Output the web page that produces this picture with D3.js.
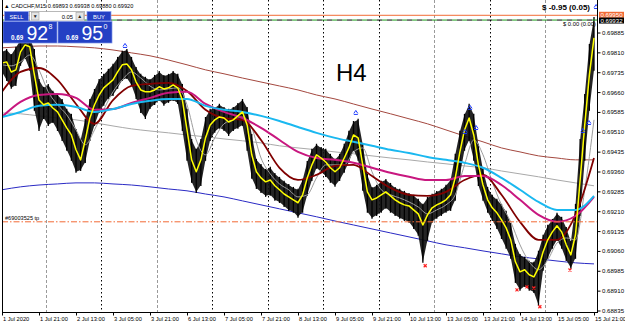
<!DOCTYPE html>
<html>
<head>
<meta charset="utf-8">
<script src="https://cdn.jsdelivr.net/npm/d3@7"></script>
<style>
  body { margin: 0; background: #fff; }
  svg text { font-family: "Liberation Sans", Arial, sans-serif; }
</style>
</head>
<body>
<svg id="chart" width="625" height="324"></svg>
<script>
// ---- chart values (hours of trading time from 1 Jul 05:00) ----
const timeTicks = [0, 16, 32, 48, 64, 80, 96, 112, 128, 144, 160, 176, 192, 208, 224, 240, 256];
const timeLabels = ["1 Jul 2020", "1 Jul 21:00", "2 Jul 13:00", "3 Jul 05:00", "3 Jul 21:00", "6 Jul 13:00",
  "7 Jul 05:00", "7 Jul 21:00", "8 Jul 13:00", "9 Jul 05:00", "9 Jul 21:00", "10 Jul 13:00",
  "13 Jul 05:00", "13 Jul 21:00", "14 Jul 13:00", "15 Jul 05:00", "15 Jul 21:00"];
// midnight of every trading day -> vertical grid
const dayStarts = [19, 43, 67, 91, 115, 139, 163, 187, 211, 235];
const dayGridGray = [true, false, true, false, false, false, false, true, false, true];

const priceTicks = [0.69885, 0.69810, 0.69735, 0.69660, 0.69585, 0.69510, 0.69435, 0.69360,
  0.69285, 0.69210, 0.69135, 0.69060, 0.68985, 0.68910, 0.68835];

// price, one sample every 2 hours
const priceHigh = [
  0.69812,0.69819,0.69800,0.69827,0.69857,0.69865,0.69865,0.69819,0.69706,0.69676,
  0.69687,0.69661,0.69649,0.69630,0.69593,0.69574,0.69517,0.69479,0.69555,0.69630,
  0.69668,0.69706,0.69725,0.69744,0.69763,0.69789,0.69812,0.69819,0.69789,0.69751,
  0.69725,0.69714,0.69706,0.69721,0.69736,0.69721,0.69725,0.69736,0.69725,0.69687,
  0.69593,0.69479,0.69442,0.69479,0.69562,0.69593,0.69600,0.69612,0.69600,0.69593,
  0.69600,0.69615,0.69630,0.69600,0.69498,0.69404,0.69385,0.69366,0.69374,0.69351,
  0.69336,0.69321,0.69309,0.69298,0.69291,0.69328,0.69396,0.69442,0.69461,0.69449,
  0.69442,0.69423,0.69404,0.69423,0.69461,0.69510,0.69547,0.69555,0.69461,0.69347,
  0.69298,0.69306,0.69321,0.69328,0.69313,0.69298,0.69291,0.69283,0.69275,0.69268,
  0.69253,0.69234,0.69260,0.69272,0.69283,0.69291,0.69306,0.69328,0.69423,0.69510,
  0.69574,0.69612,0.69574,0.69461,0.69366,0.69298,0.69268,0.69253,0.69234,0.69208,
  0.69162,0.69083,0.69045,0.69034,0.69019,0.69015,0.69057,0.69117,0.69155,0.69177,
  0.69200,0.69185,0.69147,0.69094,0.69234,0.69479,0.69649,0.69838,0.69940];
const priceLow = [
  0.69736,0.69706,0.69676,0.69687,0.69763,0.69789,0.69744,0.69593,0.69517,0.69562,
  0.69536,0.69547,0.69517,0.69479,0.69442,0.69404,0.69359,0.69366,0.69396,0.69479,
  0.69536,0.69585,0.69612,0.69638,0.69649,0.69676,0.69706,0.69713,0.69687,0.69638,
  0.69585,0.69562,0.69600,0.69615,0.69630,0.69612,0.69623,0.69630,0.69619,0.69517,
  0.69404,0.69321,0.69283,0.69309,0.69404,0.69479,0.69510,0.69525,0.69517,0.69498,
  0.69517,0.69525,0.69536,0.69442,0.69336,0.69298,0.69283,0.69268,0.69272,0.69253,
  0.69245,0.69230,0.69215,0.69208,0.69189,0.69208,0.69272,0.69328,0.69374,0.69359,
  0.69343,0.69321,0.69306,0.69328,0.69359,0.69396,0.69442,0.69404,0.69291,0.69208,
  0.69185,0.69196,0.69208,0.69223,0.69208,0.69196,0.69185,0.69177,0.69170,0.69147,
  0.69121,0.69019,0.69102,0.69170,0.69185,0.69196,0.69208,0.69215,0.69253,0.69347,
  0.69442,0.69479,0.69404,0.69309,0.69253,0.69208,0.69177,0.69147,0.69109,0.69072,
  0.69034,0.68943,0.68913,0.68928,0.68913,0.68905,0.68856,0.68989,0.69034,0.69072,
  0.69102,0.69072,0.69026,0.68996,0.69034,0.69196,0.69404,0.69593,0.69744];
// yellow fast MA, every 2 hours
const maYellow = [
  0.69770,0.69774,0.69736,0.69744,0.69812,0.69838,0.69831,0.69725,0.69630,0.69612,
  0.69619,0.69600,0.69585,0.69555,0.69525,0.69498,0.69442,0.69404,0.69479,0.69562,
  0.69612,0.69649,0.69676,0.69691,0.69706,0.69736,0.69763,0.69766,0.69744,0.69698,
  0.69668,0.69661,0.69661,0.69668,0.69680,0.69672,0.69676,0.69687,0.69676,0.69630,
  0.69517,0.69404,0.69359,0.69404,0.69487,0.69536,0.69555,0.69566,0.69562,0.69547,
  0.69555,0.69570,0.69585,0.69536,0.69423,0.69359,0.69336,0.69321,0.69328,0.69306,
  0.69291,0.69275,0.69264,0.69253,0.69242,0.69272,0.69336,0.69385,0.69423,0.69411,
  0.69396,0.69374,0.69359,0.69374,0.69411,0.69449,0.69498,0.69487,0.69385,0.69283,
  0.69253,0.69260,0.69272,0.69283,0.69268,0.69253,0.69242,0.69234,0.69230,0.69215,
  0.69200,0.69158,0.69196,0.69223,0.69234,0.69242,0.69253,0.69272,0.69336,0.69434,
  0.69517,0.69562,0.69498,0.69385,0.69309,0.69253,0.69223,0.69204,0.69177,0.69147,
  0.69102,0.69019,0.68981,0.68989,0.68970,0.68962,0.68996,0.69057,0.69102,0.69132,
  0.69155,0.69132,0.69083,0.69045,0.69121,0.69328,0.69536,0.69725,0.69865];
// thin gray MA, every 4 hours
const maGray = [
  0.69763,0.69759,0.69774,0.69800,0.69744,0.69661,0.69612,0.69574,0.69517,0.69461,
  0.69517,0.69593,0.69661,0.69706,0.69736,0.69713,0.69683,0.69668,0.69672,0.69676,
  0.69612,0.69479,0.69423,0.69487,0.69540,0.69555,0.69566,0.69525,0.69411,0.69351,
  0.69313,0.69291,0.69264,0.69272,0.69336,0.69385,0.69385,0.69385,0.69434,0.69449,
  0.69359,0.69291,0.69272,0.69260,0.69245,0.69226,0.69200,0.69215,0.69234,0.69272,
  0.69385,0.69479,0.69423,0.69321,0.69234,0.69170,0.69083,0.69019,0.68989,0.69026,
  0.69090,0.69109,0.69102,0.69291,0.69555];
// slower averages, every 8 hours
const maMaroon = [0.69661,0.69736,0.69751,0.69706,0.69615,0.69540,0.69630,0.69683,0.69691,0.69695,
  0.69664,0.69593,0.69562,0.69555,0.69479,0.69374,0.69328,0.69347,0.69381,0.69385,
  0.69343,0.69298,0.69272,0.69268,0.69283,0.69328,0.69347,0.69272,0.69170,0.69102,
  0.69102,0.69196,0.69411];
const maMagenta = [0.69566,0.69623,0.69649,0.69653,0.69638,0.69593,0.69596,0.69619,0.69638,0.69657,
  0.69661,0.69615,0.69585,0.69562,0.69525,0.69479,0.69434,0.69411,0.69404,0.69393,
  0.69374,0.69355,0.69340,0.69328,0.69328,0.69343,0.69343,0.69309,0.69253,0.69196,
  0.69170,0.69192,0.69264];
const maCyan = [0.69566,0.69585,0.69608,0.69612,0.69604,0.69585,0.69596,0.69615,0.69627,0.69634,
  0.69634,0.69608,0.69593,0.69585,0.69570,0.69551,0.69528,0.69506,0.69487,0.69472,
  0.69457,0.69442,0.69430,0.69415,0.69404,0.69393,0.69374,0.69336,0.69291,0.69245,
  0.69215,0.69215,0.69268];
const maBrown = [0.69827,0.69831,0.69834,0.69834,0.69831,0.69827,0.69819,0.69808,0.69797,0.69781,
  0.69763,0.69744,0.69729,0.69713,0.69698,0.69683,0.69668,0.69649,0.69634,0.69615,
  0.69596,0.69578,0.69559,0.69540,0.69517,0.69494,0.69472,0.69449,0.69434,0.69419,
  0.69411,0.69404,0.69404];
const maSilver = [0.69581,0.69578,0.69570,0.69562,0.69555,0.69544,0.69532,0.69521,0.69513,0.69506,
  0.69498,0.69491,0.69483,0.69476,0.69468,0.69457,0.69449,0.69442,0.69434,0.69427,
  0.69419,0.69411,0.69404,0.69396,0.69389,0.69381,0.69374,0.69362,0.69351,0.69340,
  0.69328,0.69317,0.69306];
const maNavy = [0.69291,0.69302,0.69309,0.69313,0.69317,0.69317,0.69313,0.69309,0.69302,0.69294,
  0.69287,0.69275,0.69264,0.69249,0.69234,0.69219,0.69204,0.69189,0.69173,0.69158,
  0.69143,0.69128,0.69113,0.69098,0.69083,0.69072,0.69060,0.69049,0.69038,0.69030,
  0.69022,0.69015,0.69011];

// fractal marks [hour, price]
const fractalUp = [[53.2, 0.69838], [153, 0.69585], [202.4, 0.69604], [200.2, 0.69513],
  [205, 0.69528], [251.2, 0.69517], [253.8, 0.69547], [256.9, 0.69985]];
const fractalDown = [[183, 0.69004], [222.7, 0.68913], [227, 0.68924], [230, 0.68920],
  [232.6, 0.68849], [245.6, 0.68988]];

const openPrice = 0.69950, bidPrice = 0.69932, tpPrice = 0.69170;

// ---- layout ----
const W = 625, H = 324;
const plotL = 2, plotR = 597, plotB = 312;

const x = d3.scaleLinear().domain([0, 256]).range([2, 594]);
const y = d3.scaleLinear().domain([0.68835, 0.69885]).range([310.5, 32.5]);

const svg = d3.select('#chart');
svg.append('rect').attr('width', W).attr('height', H).attr('fill', '#fff');

svg.append('defs').append('clipPath').attr('id', 'plotclip')
  .append('rect').attr('x', plotL).attr('y', 0).attr('width', plotR - plotL).attr('height', plotB);

const g = svg.append('g').attr('clip-path', 'url(#plotclip)');

// vertical day grid
g.selectAll('.vgrid').data(dayStarts).enter().append('line')
  .attr('x1', d => Math.round(x(d)) + 0.5).attr('x2', d => Math.round(x(d)) + 0.5)
  .attr('y1', 0).attr('y2', plotB)
  .attr('stroke', (d, i) => dayGridGray[i] ? '#9a9a9a' : '#000')
  .attr('stroke-dasharray', (d, i) => dayGridGray[i] ? '3,2' : '1.5,2.5')
  .attr('stroke-width', 1);

function pts(vals, step) { return vals.map((v, i) => [i * step, v]); }
const line = d3.line().x(d => x(d[0])).y(d => y(d[1]));
const smooth = d3.line().x(d => x(d[0])).y(d => y(d[1])).curve(d3.curveMonotoneX);

function drawLine(vals, step, color, width, gen) {
  g.append('path').datum(pts(vals, step))
    .attr('d', gen || smooth)
    .attr('fill', 'none').attr('stroke', color).attr('stroke-width', width)
    .attr('stroke-linejoin', 'round');
}

// long averages
drawLine(maBrown, 8, '#a4483f', 1);
drawLine(maSilver, 8, '#a9a9a9', 1);
drawLine(maNavy, 8, '#2a2ac4', 1);

// price bars (high-low range): filled band plus a bar per sample for the spikes
const bars = priceHigh.map((h, i) => ({t: i * 2, hi: h, lo: priceLow[i]}));
g.append('path').datum(bars)
  .attr('d', d3.area().x(d => x(d.t)).y0(d => y(d.lo)).y1(d => y(d.hi)))
  .attr('fill', '#111').attr('fill-opacity', 0.92);
g.selectAll('.bar').data(bars).enter().append('line')
  .attr('x1', d => x(d.t)).attr('x2', d => x(d.t))
  .attr('y1', d => y(d.hi) - 1).attr('y2', d => y(d.lo) + 1)
  .attr('stroke', '#000').attr('stroke-width', 1.3);

drawLine(maGray, 4, '#9c9c9c', 1);
drawLine(maMaroon, 8, '#800000', 1.8);
drawLine(maMagenta, 8, '#c8177f', 2);
drawLine(maCyan, 8, '#1ab8f0', 2);
drawLine(maYellow, 2, '#ffff00', 1.5, line);

// fractals
g.selectAll('.fu').data(fractalUp).enter().append('path')
  .attr('transform', d => `translate(${x(d[0])},${y(d[1])})`)
  .attr('d', 'M-2,1.5 L0,-1.5 L2,1.5 M-2,2.5 L2,2.5')
  .attr('fill', 'none').attr('stroke', '#1e3cff').attr('stroke-width', 1);
g.selectAll('.fd').data(fractalDown).enter().append('path')
  .attr('transform', d => `translate(${x(d[0])},${y(d[1])})`)
  .attr('d', 'M-1.5,-1.5 L1.5,1.5 M1.5,-1.5 L-1.5,1.5')
  .attr('fill', 'none').attr('stroke', '#ff2020').attr('stroke-width', 1.2);

// order / price lines
g.append('line').attr('x1', plotL).attr('x2', plotR).attr('y1', y(openPrice)).attr('y2', y(openPrice))
  .attr('stroke', '#f26a35').attr('stroke-width', 1);
g.append('line').attr('x1', plotL).attr('x2', plotR).attr('y1', y(bidPrice)).attr('y2', y(bidPrice))
  .attr('stroke', '#1a9a1a').attr('stroke-width', 1).attr('stroke-dasharray', '5,5');
g.append('line').attr('x1', plotL + 5).attr('x2', plotR).attr('y1', y(bidPrice)).attr('y2', y(bidPrice))
  .attr('stroke', '#000').attr('stroke-width', 1).attr('stroke-dasharray', '5,5');
g.append('line').attr('x1', plotL).attr('x2', plotR).attr('y1', y(tpPrice)).attr('y2', y(tpPrice))
  .attr('stroke', '#f26a35').attr('stroke-width', 1).attr('stroke-dasharray', '6,2,1.5,2');
g.append('text').attr('x', 5).attr('y', y(tpPrice) - 2).attr('font-size', 5.6)
  .text('#69003525 tp');

// texts inside plot
g.append('text').attr('x', 336).attr('y', 81).attr('font-size', 24).text('H4');
g.append('text').attr('x', 590).attr('y', 10).attr('text-anchor', 'end')
  .attr('font-size', 8).attr('font-weight', 'bold').text('$ -0.95 (0.05)');
g.append('text').attr('x', 563).attr('y', 26).attr('font-size', 5.8).text('$ 0.00 (0.00)');
g.append('text').attr('x', 4).attr('y', 8).attr('font-size', 5.6)
  .text('\u25B2 CADCHF,M15  0.69893 0.69938 0.69880 0.69920');

// one click trading panel
const panel = svg.append('g');
const blue = '#2440c4';
function btn(px, label) {
  panel.append('rect').attr('x', px).attr('y', 11.5).attr('width', 24).attr('height', 9.5)
    .attr('fill', blue).attr('stroke', '#8ea2ee').attr('stroke-width', 0.7);
  panel.append('text').attr('x', px + 12).attr('y', 18.5).attr('text-anchor', 'middle')
    .attr('font-size', 5.8).attr('fill', '#fff').text(label);
}
btn(4.5, 'SELL');
btn(87, 'BUY');
panel.append('rect').attr('x', 29.5).attr('y', 11.5).attr('width', 55).attr('height', 9.5)
  .attr('fill', '#fff').attr('stroke', '#9a9a9a').attr('stroke-width', 0.7);
[[31.5, '\u25BC'], [76, '\u25B2']].forEach(([bx, s]) => {
  panel.append('rect').attr('x', bx).attr('y', 12.5).attr('width', 7.5).attr('height', 7.5)
    .attr('fill', '#e4e4e4').attr('stroke', '#a0a0a0').attr('stroke-width', 0.6);
  panel.append('text').attr('x', bx + 3.75).attr('y', 18.3).attr('text-anchor', 'middle')
    .attr('font-size', 5).attr('fill', '#222').text(s);
});
panel.append('text').attr('x', 73).attr('y', 18.5).attr('text-anchor', 'end')
  .attr('font-size', 5.8).text('0.05');
function quote(px, big, sup) {
  panel.append('rect').attr('x', px).attr('y', 21.5).attr('width', 54).attr('height', 21.5)
    .attr('fill', blue).attr('stroke', '#7f95e8').attr('stroke-width', 0.7);
  panel.append('text').attr('x', px + 8).attr('y', 39.5).attr('font-size', 6.3)
    .attr('font-weight', 'bold').attr('fill', '#fff').text('0.69');
  panel.append('text').attr('x', px + 23.5).attr('y', 40).attr('font-size', 19.5)
    .attr('fill', '#fff').text(big);
  panel.append('text').attr('x', px + 45.5).attr('y', 28.5).attr('font-size', 7)
    .attr('fill', '#fff').text(sup);
}
quote(3, '92', '8');
quote(58, '95', '0');

// frame
svg.append('line').attr('x1', plotL + 0.5).attr('x2', plotL + 0.5).attr('y1', 0).attr('y2', plotB)
  .attr('stroke', '#000');
svg.append('line').attr('x1', plotR + 0.5).attr('x2', plotR + 0.5).attr('y1', 0).attr('y2', plotB + 0.5)
  .attr('stroke', '#000');
svg.append('line').attr('x1', plotL).attr('x2', plotR + 1).attr('y1', plotB + 0.5).attr('y2', plotB + 0.5)
  .attr('stroke', '#000');

// right price axis
const yAxis = d3.axisRight(y).tickValues(priceTicks).tickFormat(d3.format('.5f'))
  .tickSize(3).tickPadding(1.5);
const ya = svg.append('g').attr('transform', `translate(${plotR + 0.5},0)`).call(yAxis);
ya.select('.domain').remove();
ya.selectAll('text').attr('font-size', 6.1).attr('fill', '#000')
  .attr('font-family', '"Liberation Sans", Arial, sans-serif');

// price tags on the axis
[[openPrice, '#f26a35', -0.5], [bidPrice, '#000', 0.5]].forEach(([p, c, off]) => {
  const cy = y(p) + off;
  svg.append('rect').attr('x', plotR + 2).attr('y', cy - 3).attr('width', 25).attr('height', 6)
    .attr('fill', c);
  svg.append('text').attr('x', plotR + 3.5).attr('y', cy + 2.2).attr('font-size', 6.1)
    .attr('fill', '#fff').text(d3.format('.5f')(p));
});

// bottom time axis
const xAxis = d3.axisBottom(x).tickValues(timeTicks).tickFormat((d, i) => timeLabels[i])
  .tickSize(3).tickPadding(1);
const xa = svg.append('g').attr('transform', `translate(0,${plotB + 0.5})`).call(xAxis);
xa.select('.domain').remove();
xa.selectAll('text').attr('text-anchor', 'start').attr('dx', 0.5).attr('font-size', 5.7)
  .attr('fill', '#000').attr('font-family', '"Liberation Sans", Arial, sans-serif');
</script>
</body>
</html>
